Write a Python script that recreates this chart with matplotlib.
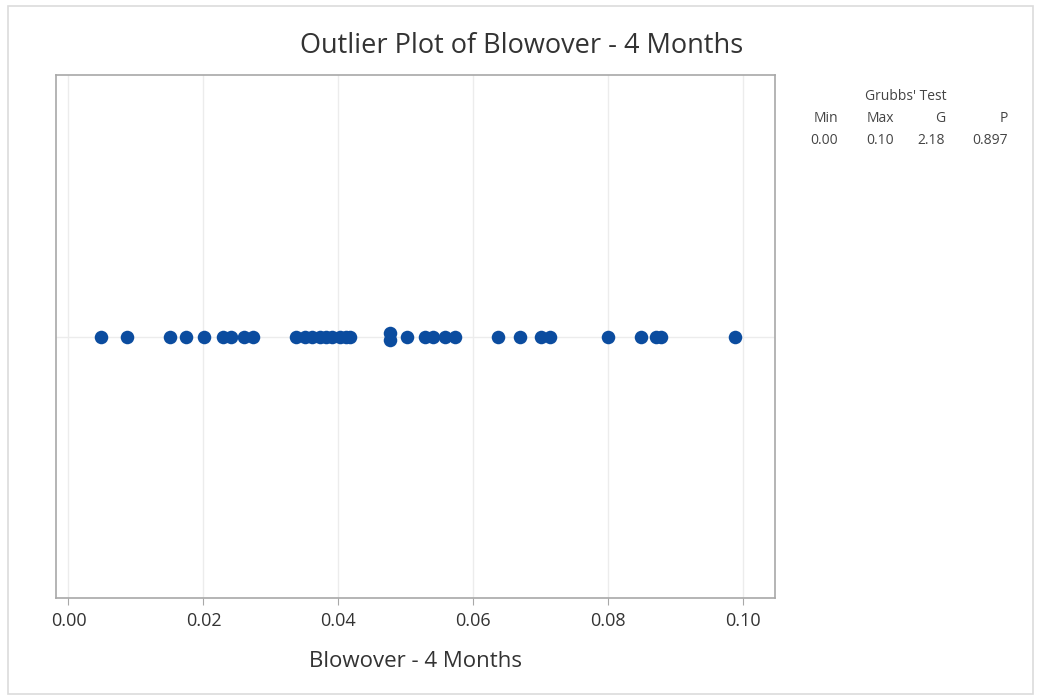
import numpy as np
import matplotlib
matplotlib.use('Agg')
import matplotlib.pyplot as plt
from matplotlib.patches import Rectangle

plt.rcParams['font.family'] = ['Open Sans', 'DejaVu Sans']

# data
blowover = [0.0048, 0.0086, 0.0150, 0.0174, 0.0201, 0.0229, 0.0241, 0.0260, 0.0273,
            0.0337, 0.0350, 0.0361, 0.0373, 0.0381, 0.0390, 0.0402, 0.0411, 0.0417,
            0.0476, 0.0476, 0.0501, 0.0528, 0.0540, 0.0558, 0.0573,
            0.0636, 0.0669, 0.0700, 0.0713, 0.0799, 0.0848, 0.0870, 0.0878, 0.0987]
xticks = [0.00, 0.02, 0.04, 0.06, 0.08, 0.10]
grubbs_cols = ['Min', 'Max', 'G', 'P']
grubbs_vals = ['0.00', '0.10', '2.18', '0.897']

# stack duplicate values vertically
vals = np.array(blowover)
ys = np.zeros(len(vals))
for v in np.unique(vals):
    idx = np.where(vals == v)[0]
    n = len(idx)
    ys[idx] = np.arange(n) - (n - 1) / 2.0

W, H = 1042, 698
fig = plt.figure(figsize=(W / 100, H / 100), dpi=100)
fig.patches.append(Rectangle((8 / W, 4 / H), 1025 / W, 688 / H, transform=fig.transFigure,
                             fill=False, edgecolor='#dcdcdc', linewidth=1.2))

ax = fig.add_axes([56 / W, (H - 598) / H, (775 - 56) / W, (598 - 75) / H])
ax.scatter(vals, ys, s=95, color='#0b4c9f', zorder=3, linewidths=0)
ax.set_xlim(-0.00185, 0.1047)
ax.set_ylim(-37, 37)
ax.set_xticks(xticks)
ax.set_xticklabels(['%.2f' % t for t in xticks], fontsize=13, color='#333333')
ax.set_yticks([])
ax.grid(axis='x', color='#ececec', linewidth=1)
ax.axhline(0, color='#ececec', linewidth=1, zorder=1)
ax.set_axisbelow(True)
for sp in ax.spines.values():
    sp.set_color('#a8a8a8')
    sp.set_linewidth(1.2)
ax.tick_params(axis='x', length=5, color='#a8a8a8', pad=5)
ax.set_xlabel('Blowover - 4 Months', fontsize=16, color='#333333', labelpad=15)
fig.text(522 / W, 1 - 46 / H, 'Outlier Plot of Blowover - 4 Months', fontsize=19.5,
         color='#333333', ha='center', va='center')

# Grubbs' test table
tc = '#444444'
fig.text(906 / W, 1 - 96 / H, "Grubbs' Test", fontsize=10, color=tc, ha='center', va='center')
col_right = [838, 894, 945, 1008]
for c, v, xr in zip(grubbs_cols, grubbs_vals, col_right):
    fig.text(xr / W, 1 - 118 / H, c, fontsize=10, color=tc, ha='right', va='center')
    fig.text(xr / W, 1 - 140 / H, v, fontsize=10, color=tc, ha='right', va='center')

fig.savefig('out.png', dpi=100)
